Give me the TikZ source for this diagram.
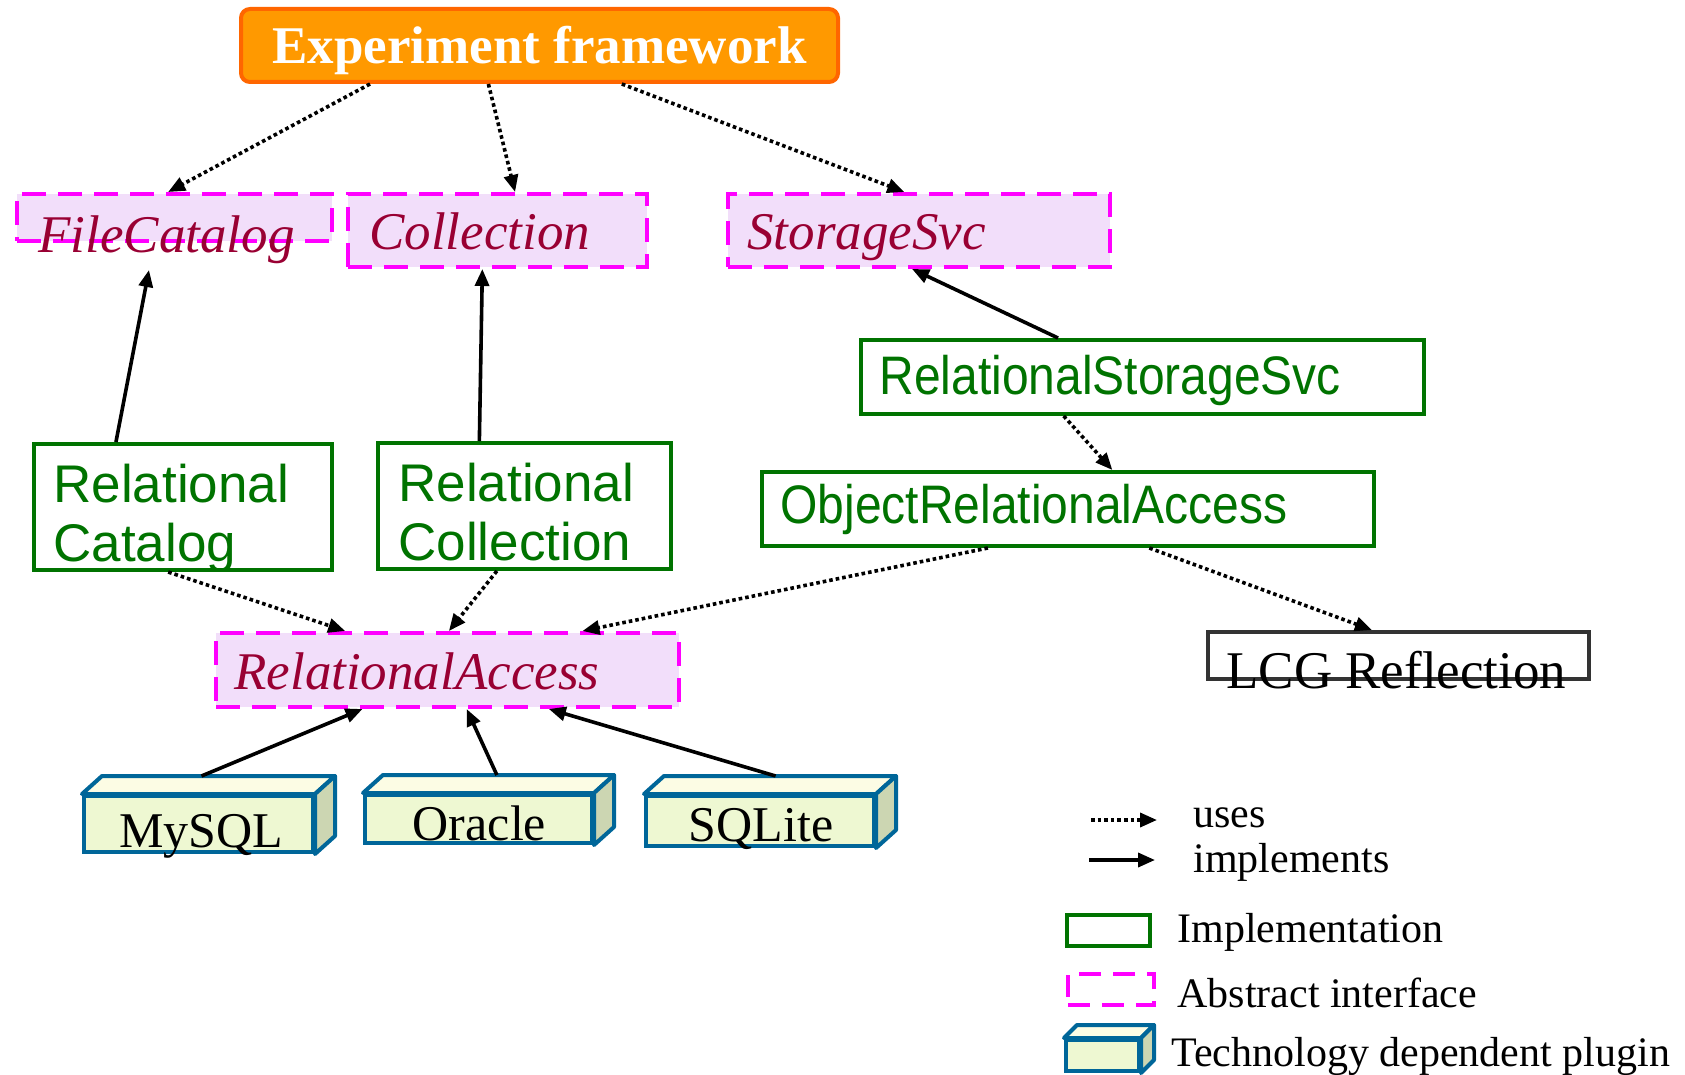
\documentclass[tikz,border=0pt]{standalone}
\usepackage{fontspec}
\setmainfont{Liberation Serif}
\newfontfamily\arialfont{Liberation Sans}
\usetikzlibrary{arrows.meta,calc}

\definecolor{implgreen}{RGB}{0,115,0}
\definecolor{abstractpink}{RGB}{255,0,255}
\definecolor{abstractfill}{RGB}{242,222,250}
\definecolor{abstracttxt}{RGB}{153,0,51}
\definecolor{pluginblue}{RGB}{0,102,153}
\definecolor{pluginfront}{RGB}{238,248,210}
\definecolor{plugintopc}{RGB}{252,252,228}
\definecolor{pluginsidec}{RGB}{204,214,178}
\definecolor{frameorange}{RGB}{255,153,0}
\definecolor{framedark}{RGB}{255,102,0}

% taller Arial-like lettering
\newcommand{\talltext}[1]{\scalebox{1}[1.13]{#1}}

\tikzset{every picture/.style={line width=0.75pt}}
\tikzset{
  implbox/.style={draw=implgreen, line width=4pt, inner sep=0pt, anchor=north west},
  abstractbox/.style={draw=abstractpink, fill=abstractfill, line width=4pt, dash pattern=on 24pt off 12pt, inner sep=0pt, anchor=north west},
  pluginbox/.style={draw=pluginblue, fill=pluginfront, line width=4pt, inner sep=0pt, anchor=north west},
  plugintop/.style={draw=pluginblue, fill=plugintopc, line width=4pt, line join=round},
  pluginside/.style={draw=pluginblue, fill=pluginsidec, line width=4pt, line join=round},
  impltext/.style={anchor=base west, inner sep=0pt, text=implgreen, align=left, font=\arialfont\fontsize{48}{59}\selectfont},
  abstracttext/.style={anchor=base west, inner sep=0pt, text=abstracttxt, font=\itshape\fontsize{53}{60}\selectfont},
  plugintext/.style={anchor=base, inner sep=0pt, font=\fontsize{50}{56}\selectfont},
  legendtext/.style={anchor=base west, inner sep=0pt, font=\fontsize{42}{48}\selectfont},
  uses/.style={line width=3.6pt, dash pattern=on 3.6pt off 3pt, -{Triangle[length=17pt,width=14pt]}},
  implements/.style={line width=3.6pt, -{Triangle[length=17pt,width=14pt]}},
}

\begin{document}
\begin{tikzpicture}[x=1pt,y=1pt,yscale=-1,xscale=1]
    \useasboundingbox (0,0) rectangle (1685,1075);

    %Shape: Rounded rectangle framework
    \node [draw=framedark, fill=frameorange, line width=4pt, rounded corners=9pt,
           minimum width=597, minimum height=73, text height=36pt, text depth=0pt,
           text=white, font=\bfseries\fontsize{53}{60}\selectfont] (ef) at (539.5,45.5) {Experiment framework};

    %Shape: Abstract interfaces
    \node [abstractbox, minimum width=315, minimum height=47] (fc)   at ( 15,192) {};
    \node [abstractbox, minimum width=299, minimum height=73] (coll) at (346,192) {};
    \node [abstractbox, minimum width=382, minimum height=73] (ss)   at (726,192) {};
    \node [abstractbox, minimum width=463, minimum height=74] (ra)   at (214,631) {};
    \node [abstracttext] (fctxt)   at ($(fc.north west)+(23,60.5)$) {FileCatalog};
    \node [abstracttext] (colltxt) at ($(coll.north west)+(23,58)$) {Collection};
    \node [abstracttext] (sstxt)   at ($(ss.north west)+(21,58)$) {StorageSvc};
    \node [abstracttext] (ratxt)   at ($(ra.north west)+(20,58)$) {RelationalAccess};

    %Shape: Implementations
    \node [implbox, minimum width=563, minimum height=74]  (rss)   at (859,338) {};
    \node [implbox, minimum width=298, minimum height=126] (rcat)  at ( 32,442) {};
    \node [implbox, minimum width=293, minimum height=126] (rcoll) at (376,441) {};
    \node [implbox, minimum width=612, minimum height=74]  (ora)   at (760,470) {};
    \node [impltext] (rsstxt)   at ($(rss.north west)+(20,56)$) {\talltext{RelationalStorageSvc}};
    \node [impltext, font=\arialfont\fontsize{53}{59}\selectfont] (rcattxt)  at ($(rcat.north west)+(21,119)$) {Relational\\Catalog};
    \node [impltext, font=\arialfont\fontsize{53}{59}\selectfont] (rcolltxt) at ($(rcoll.north west)+(22,119)$) {Relational\\Collection};
    \node [impltext] (oratxt)   at ($(ora.north west)+(20,53)$) {\talltext{ObjectRelationalAccess}};

    %Shape: Rectangle LCG Reflection
    \node [draw={rgb,255:red,51;green,51;blue,51}, line width=4pt, inner sep=0pt, anchor=north west,
           minimum width=381, minimum height=47] (lcg) at (1206,630) {};
    \node [legendtext, font=\fontsize{53}{60}\selectfont] (lcgtxt) at ($(lcg.north west)+(20,58)$) {LCG Reflection};

    %Shape: Plugins
    \node [pluginbox, minimum width=229, minimum height=56] (mysql)  at ( 82,794) {};
    \node [pluginbox, minimum width=227, minimum height=48] (oracle) at (363,793) {};
    \node [pluginbox, minimum width=228, minimum height=50] (sqlite) at (644,794) {};
    \foreach \p in {mysql,oracle,sqlite}{
      \draw [plugintop]  (\p.north west) -- ++(20,-18) -- ($(\p.north east)+(20,-18)$) -- (\p.north east) -- cycle;
      \draw [pluginside] (\p.north east) -- ++(20,-18) -- ($(\p.south east)+(20,-18)$) -- (\p.south east) -- cycle;
    }
    \node [plugintext] (mysqltxt)  at ($(mysql.south)+(3,-6.5)$) {MySQL};
    \node [plugintext] (oracletxt) at ($(oracle.south)+(1,-5)$) {Oracle};
    \node [plugintext] (sqlitetxt) at ($(sqlite.south)+(1,-7)$) {SQLite};

    %Connectors: uses
    \draw [uses] ($(ef.south west)!0.218!(ef.south east)$) -- ($(fc.north west)!0.48!(fc.north east)$);
    \draw [uses] ($(ef.south west)!0.415!(ef.south east)$) -- ($(coll.north west)!0.558!(coll.north east)$);
    \draw [uses] ($(ef.south west)!0.637!(ef.south east)$) -- ($(ss.north west)!0.462!(ss.north east)$);
    \draw [uses] ($(rss.south west)!0.361!(rss.south east)$) -- ($(ora.north west)!0.572!(ora.north east)$);
    \draw [uses] ($(rcat.south west)!0.451!(rcat.south east)$) -- ($(ra.north west)!0.281!(ra.north east)$);
    \draw [uses] ($(rcoll.south west)!0.407!(rcoll.south east)$) -- ($(ra.north west)!0.503!(ra.north east)$);
    \draw [uses] ($(ora.south west)!0.370!(ora.south east)$) -- ($(ra.north west)!0.789!(ra.north east)$);
    \draw [uses] ($(ora.south west)!0.632!(ora.south east)$) -- ($(lcg.north west)!0.431!(lcg.north east)$);

    %Connectors: implements
    \draw [implements] ($(rcat.north west)!0.278!(rcat.north east)$) -- ($(fc.south west)!0.42!(fc.south east)+(0,27)$);
    \draw [implements] ($(rcoll.north west)!0.348!(rcoll.north east)$) -- ($(coll.south west)!0.45!(coll.south east)$);
    \draw [implements] ($(rss.north west)!0.351!(rss.north east)$) -- ($(ss.south west)!0.482!(ss.south east)$);
    \draw [implements] ($(mysql.north west)!0.427!(mysql.north east)+(20,-18)$) -- ($(ra.south west)!0.318!(ra.south east)$);
    \draw [implements] ($(oracle.north west)!0.493!(oracle.north east)+(20,-18)$) -- ($(ra.south west)!0.541!(ra.south east)$);
    \draw [implements] ($(sqlite.north west)!0.481!(sqlite.north east)+(20,-18)$) -- ($(ra.south west)!0.717!(ra.south east)$);

    %Legend
    \coordinate (usesA) at (1091,820);
    \coordinate (usesB) at (1157,820);
    \coordinate (implA) at (1089,860);
    \coordinate (implB) at (1155,860);
    \draw [uses] (usesA) -- (usesB);
    \draw [implements] (implA) -- (implB);
    \node [legendtext] (usestxt) at (1193,827.5) {uses};
    \node [legendtext] (impltxt) at (1193,872.5) {implements};

    \node [implbox, minimum width=83, minimum height=31] (legimpl) at (1065,913) {};
    \node [legendtext] (legimpltxt) at (1177,942.5) {Implementation};

    \node [abstractbox, fill=none, dash pattern=on 22pt off 12pt, minimum width=86, minimum height=31] (legabs) at (1066,972) {};
    \node [legendtext] (legabstxt) at (1177,1007) {Abstract interface};

    \node [pluginbox, minimum width=73, minimum height=31] (legplug) at (1064,1038) {};
    \draw [plugintop]  (legplug.north west) -- ++(13,-13) -- ($(legplug.north east)+(13,-13)$) -- (legplug.north east) -- cycle;
    \draw [pluginside] (legplug.north east) -- ++(13,-13) -- ($(legplug.south east)+(13,-13)$) -- (legplug.south east) -- cycle;
    \node [legendtext] (legplugtxt) at (1171,1066) {Technology dependent plugin};
\end{tikzpicture}
\end{document}
